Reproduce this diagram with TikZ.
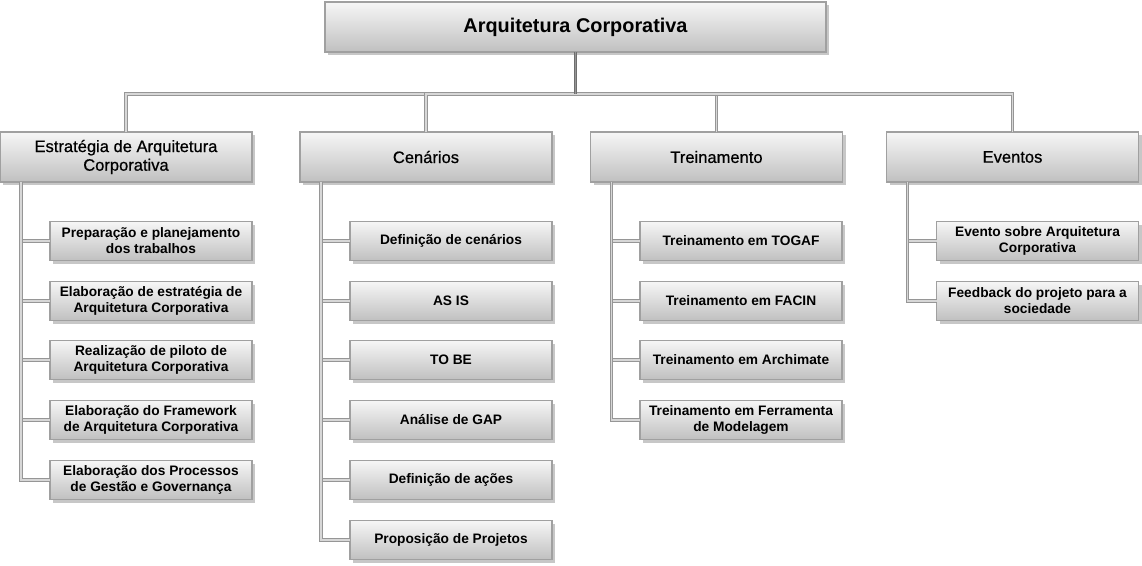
\documentclass[tikz,border=0pt]{standalone}
\usepackage{fontspec}
\setmainfont{Liberation Sans}
\newfontfamily\medfont[FakeBold=0.7]{Liberation Sans}
\usetikzlibrary{shadows,calc}
\definecolor{boxtop}{RGB}{246,246,246}
\definecolor{boxbot}{RGB}{192,192,192}
\definecolor{boxline}{RGB}{160,160,160}
\definecolor{connout}{RGB}{150,150,150}
\definecolor{connin}{RGB}{215,215,215}
\definecolor{trunkout}{RGB}{110,110,110}
\definecolor{trunkin}{RGB}{150,150,150}
\definecolor{txt}{RGB}{0,0,0}
\tikzset{
  gbox/.style={draw=boxline, line width=1.1pt, top color=boxtop, bottom color=boxbot,
    drop shadow={shadow xshift=2.6pt, shadow yshift=-2.6pt, fill=black, opacity=0.22},
    align=center, text=txt, inner sep=0pt, outer sep=0pt},
  rootbox/.style={gbox, minimum width=375.75pt, minimum height=37.5pt,
    font=\bfseries\fontsize{14.9}{17}\selectfont},
  lvlbox/.style={gbox, minimum width=189pt, minimum height=37.5pt,
    font=\medfont\fontsize{12.4}{14}\selectfont},
  leafbox/.style={gbox, minimum width=151.5pt, minimum height=29.25pt,
    font=\bfseries\fontsize{10.3}{12}\selectfont},
  conn/.style={draw=connout, line width=0.75pt, double=connin, double distance=1.3pt},
  trunk/.style={draw=trunkout, line width=0.75pt, double=trunkin, double distance=1.3pt}
}
\begin{document}
\begin{tikzpicture}[x=0.75pt,y=-0.75pt]
\useasboundingbox (0,0) rectangle (1142,565);

% root
\node[rootbox] (root) at (575.5,27) {Arquitetura Corporativa};

% level 1
\node[lvlbox] (est) at (126,157) {Estratégia de Arquitetura\\Corporativa};
\node[lvlbox] (cen) at (426,157) {Cenários};
\node[lvlbox] (tre) at (716.5,157) {Treinamento};
\node[lvlbox] (eve) at (1012.5,157) {Eventos};

% leaves: Estratégia
\node[leafbox] (e1) at (151,241) {Preparação e planejamento\\dos trabalhos};
\node[leafbox] (e2) at (151,301) {Elaboração de estratégia de\\Arquitetura Corporativa};
\node[leafbox] (e3) at (151,360) {Realização de piloto de\\Arquitetura Corporativa};
\node[leafbox] (e4) at (151,420) {Elaboração do Framework\\de Arquitetura Corporativa};
\node[leafbox] (e5) at (151,480) {Elaboração dos Processos\\de Gestão e Governança};

% leaves: Cenários
\node[leafbox] (c1) at (451,241) {Definição de cenários};
\node[leafbox] (c2) at (451,301) {AS IS};
\node[leafbox] (c3) at (451,360) {TO BE};
\node[leafbox] (c4) at (451,420) {Análise de GAP};
\node[leafbox] (c5) at (451,480) {Definição de ações};
\node[leafbox] (c6) at (451,540) {Proposição de Projetos};

% leaves: Treinamento
\node[leafbox] (t1) at (741,241) {Treinamento em TOGAF};
\node[leafbox] (t2) at (741,301) {Treinamento em FACIN};
\node[leafbox] (t3) at (741,360) {Treinamento em Archimate};
\node[leafbox] (t4) at (741,420) {Treinamento em Ferramenta\\de Modelagem};

% leaves: Eventos
\node[leafbox] (v1) at (1037.5,241) {Evento sobre Arquitetura\\Corporativa};
\node[leafbox] (v2) at (1037.5,301) {Feedback do projeto para a\\sociedade};

% connectors root -> level 1
\coordinate (bus) at ($(root.south)+(0,42)$);
\foreach \n in {est,cen,tre,eve}{
  \draw[conn] (bus) -| (\n.north);
}
\draw[trunk] (root.south) -- (bus);

% connectors level 1 -> leaves (shortest first, longest last)
\foreach \p/\list in {est/{e1,e2,e3,e4,e5}, cen/{c1,c2,c3,c4,c5,c6}, tre/{t1,t2,t3,t4}, eve/{v1,v2}}{
  \foreach \c in \list {
    \draw[conn] ($(\p.south west)+(21,0)$) |- (\c.west);
  }
}
\end{tikzpicture}
\end{document}
